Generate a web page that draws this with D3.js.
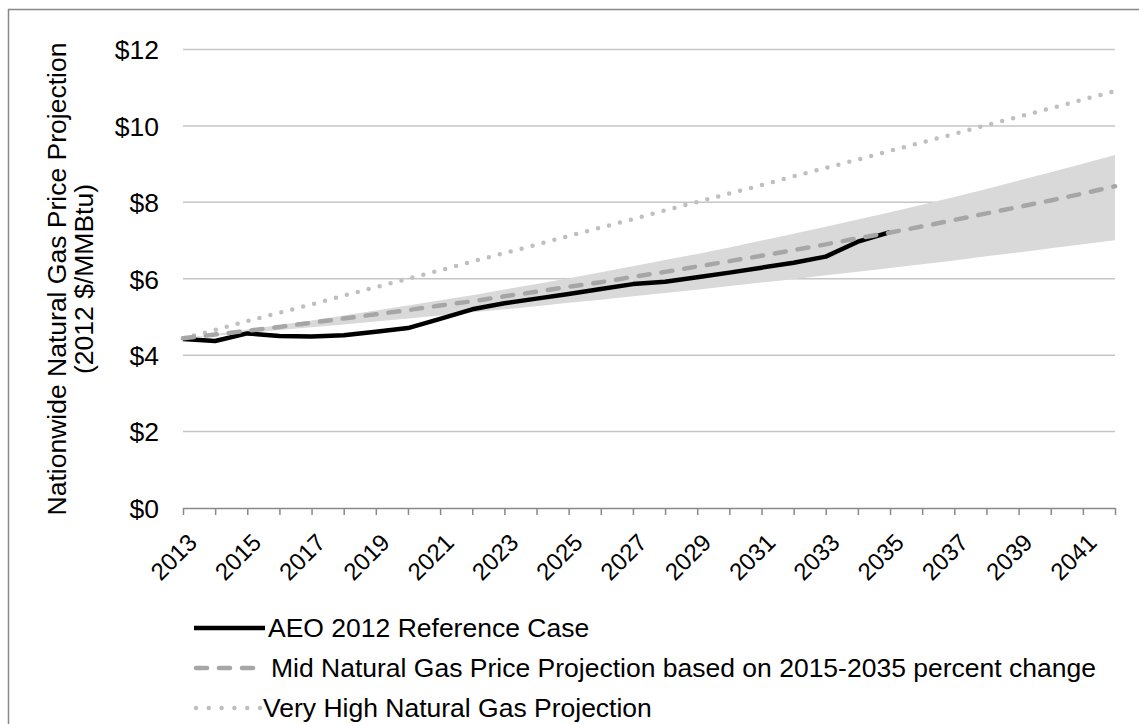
<!DOCTYPE html>
<html>
<head>
<meta charset="utf-8">
<script src="https://cdn.jsdelivr.net/npm/d3@7"></script>
<style>
  html, body { margin: 0; padding: 0; background: #fff; }
  text { font-family: "Liberation Sans", Arial, sans-serif; fill: #000; }
</style>
</head>
<body>
<svg id="chart" width="1139" height="724"></svg>
<script>
// ---------- data ----------
const years = [2013,2014,2015,2016,2017,2018,2019,2020,2021,2022,2023,2024,2025,2026,2027,2028,2029,2030,2031,2032,2033,2034,2035,2036,2037,2038,2039,2040,2041,2042];
const aeoReference = [4.42,4.37,4.57,4.50,4.49,4.52,4.61,4.71,4.95,5.20,5.36,5.48,5.60,5.73,5.86,5.92,6.04,6.16,6.29,6.42,6.58,6.97,7.22];
const midProjection = [4.44,4.54,4.64,4.74,4.85,4.96,5.07,5.18,5.30,5.41,5.54,5.66,5.79,5.91,6.05,6.18,6.32,6.46,6.60,6.75,6.90,7.06,7.21,7.37,7.54,7.71,7.88,8.05,8.23,8.42];
const veryHighProjection = [4.44,4.66,4.89,5.11,5.33,5.56,5.78,6.00,6.22,6.45,6.67,6.89,7.12,7.34,7.56,7.79,8.01,8.23,8.45,8.68,8.90,9.12,9.35,9.57,9.79,10.02,10.24,10.46,10.69,10.91];
const bandUpper = [4.44,4.55,4.67,4.79,4.91,5.04,5.17,5.30,5.44,5.57,5.72,5.86,6.01,6.17,6.33,6.49,6.65,6.82,7.00,7.18,7.36,7.55,7.74,7.94,8.14,8.35,8.57,8.79,9.01,9.24];
const bandLower = [4.44,4.51,4.58,4.66,4.73,4.80,4.88,4.96,5.04,5.12,5.20,5.28,5.37,5.45,5.54,5.63,5.71,5.81,5.90,5.99,6.09,6.18,6.28,6.38,6.48,6.59,6.69,6.80,6.90,7.01];
const yTicks = [0,2,4,6,8,10,12];
const xLabelYears = [2013,2015,2017,2019,2021,2023,2025,2027,2029,2031,2033,2035,2037,2039,2041];
const legendLabels = ["AEO 2012 Reference Case","Mid Natural Gas Price Projection based on 2015-2035 percent change","Very High Natural Gas Projection"];
const yTitleLines = ["Nationwide Natural Gas Price Projection","(2012 $/MMBtu)"];

// ---------- layout ----------
const svg = d3.select("#chart");
const FS = 26.5;
const FSX = 24;
const x = d3.scaleLinear().domain([2013, 2042]).range([183, 1115]);
const y = d3.scaleLinear().domain([0, 12]).range([508, 49.5]);

// outer frame (cropped by the canvas on right/bottom)
svg.append("rect").attr("x", 8.5).attr("y", 9.5).attr("width", 1300).attr("height", 900)
  .attr("fill", "none").attr("stroke", "#898989").attr("stroke-width", 1.5);

// gridlines
svg.append("g").selectAll("line").data(yTicks.filter(d => d > 0)).join("line")
  .attr("x1", 183).attr("x2", 1115)
  .attr("y1", d => y(d)).attr("y2", d => y(d))
  .attr("stroke", "#c6c6c6").attr("stroke-width", 1.5);

// y labels
const yAxis = d3.axisLeft(y).tickValues(yTicks).tickFormat(d => "$" + d).tickSize(0).tickPadding(0);
const gy = svg.append("g").attr("transform", "translate(159,0)").call(yAxis);
gy.select(".domain").remove();
gy.selectAll("text").attr("font-size", FS).attr("font-family", "Liberation Sans, Arial, sans-serif").attr("fill", "#000").attr("dy", "0.35em");

// x axis
const xAxis = d3.axisBottom(x).tickValues(years).tickSize(7).tickFormat(d => xLabelYears.includes(d) ? String(d) : "");
const gx = svg.append("g").attr("transform", "translate(0,508)").call(xAxis);
gx.select(".domain").attr("d", "M183,0.5H1115").attr("stroke", "#898989").attr("stroke-width", 1.5);
gx.selectAll(".tick line").attr("stroke", "#898989").attr("stroke-width", 1.5);
gx.selectAll(".tick text")
  .attr("font-size", FSX).attr("font-family", "Liberation Sans, Arial, sans-serif").attr("fill", "#000")
  .attr("text-anchor", "end")
  .attr("transform", "translate(9,30) rotate(-45)")
  .attr("x", 0).attr("y", 0).attr("dy", "0.35em");

// band
const bandData = years.map((yr, i) => ({yr, lo: bandLower[i], hi: bandUpper[i]}));
svg.append("path").datum(bandData)
  .attr("d", d3.area().x(d => x(d.yr)).y0(d => y(d.lo)).y1(d => y(d.hi)))
  .attr("fill", "#d9d9d9");

const line = d3.line().x(d => x(d[0])).y(d => y(d[1]));

// very high dotted
svg.append("path").datum(years.map((yr, i) => [yr, veryHighProjection[i]]))
  .attr("d", line).attr("fill", "none").attr("stroke", "#bfbfbf").attr("stroke-width", 4.5)
  .attr("stroke-linecap", "round").attr("stroke-dasharray", "0,11.3");

// AEO reference
svg.append("path").datum(aeoReference.map((v, i) => [years[i], v]))
  .attr("d", line).attr("fill", "none").attr("stroke", "#000").attr("stroke-width", 4.5)
  .attr("stroke-linejoin", "round");

// mid dashed
svg.append("path").datum(years.map((yr, i) => [yr, midProjection[i]]))
  .attr("d", line).attr("fill", "none").attr("stroke", "#a6a6a6").attr("stroke-width", 4.5)
  .attr("stroke-linecap", "round").attr("stroke-dasharray", "11,12");

// y title
const yt = svg.append("text").attr("transform", "translate(0,279) rotate(-90)")
  .attr("text-anchor", "middle").attr("font-size", FS);
yt.append("tspan").attr("x", 0).attr("y", 66).text(yTitleLines[0]);
yt.append("tspan").attr("x", 0).attr("y", 93).text(yTitleLines[1]);

// legend
const legendStyles = [
  {stroke: "#000", dash: null, cap: "butt", x2: 265},
  {stroke: "#a6a6a6", dash: "11,12", cap: "round", x2: 258},
  {stroke: "#bfbfbf", dash: "0,12.8", cap: "round", x2: 260}
];
const lg = svg.append("g").selectAll("g").data(legendLabels).join("g")
  .attr("transform", (d, i) => `translate(0,${628 + i * 40})`);
lg.append("line").attr("x1", (d, i) => legendStyles[i].cap === "round" ? 196 : 194)
  .attr("x2", (d, i) => legendStyles[i].x2).attr("y1", 0).attr("y2", 0)
  .attr("stroke", (d, i) => legendStyles[i].stroke).attr("stroke-width", 4.5)
  .attr("stroke-linecap", (d, i) => legendStyles[i].cap)
  .attr("stroke-dasharray", (d, i) => legendStyles[i].dash);
lg.append("text").attr("x", (d, i) => [268, 271, 263][i]).attr("y", 0).attr("dy", "0.35em")
  .attr("font-size", FS).text(d => d);
</script>
</body>
</html>
